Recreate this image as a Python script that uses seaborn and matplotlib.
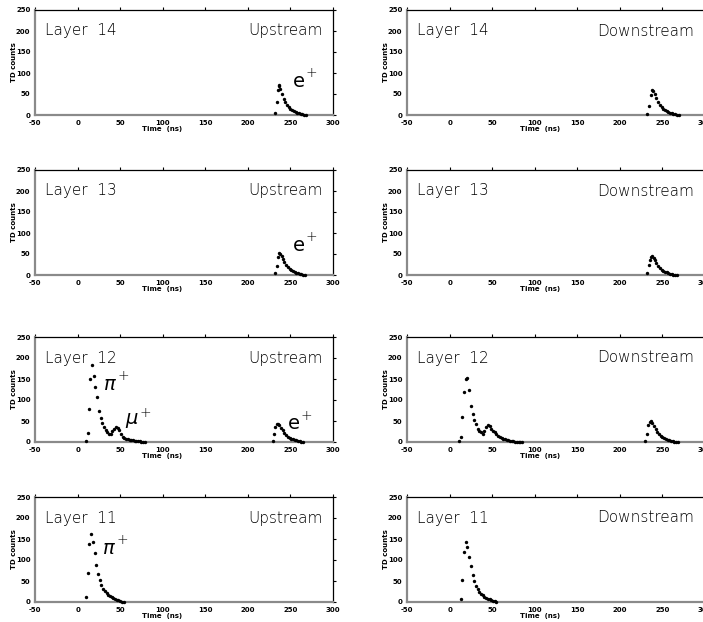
import matplotlib
matplotlib.use("Agg")
import matplotlib.pyplot as plt
import seaborn as sns
import pandas as pd

sns.set_style("white")
plt.rcParams['font.family'] = ['DejaVu Sans']
plt.rcParams['text.color'] = 'black'

# ---------------- data ----------------
x_ticks = [-50, 0, 50, 100, 150, 200, 250, 300]
y_ticks = [0, 50, 100, 150, 200, 250]
layers = ["Layer  14", "Layer  13", "Layer  12", "Layer  11"]
sides = ["Upstream", "Downstream"]

# Layer 14
t14u = [232, 234, 235, 236, 237, 238, 240, 242, 244, 246, 248, 250, 252, 254, 256, 258, 260, 262, 264, 266, 268]
c14u = [5, 30, 60, 68, 72, 63, 50, 38, 30, 23, 18, 14, 11, 9, 7, 5, 4, 3, 2, 1, 0]
t14d = [232, 234, 236, 238, 239, 241, 243, 245, 247, 249, 251, 253, 255, 257, 259, 261, 263, 265, 267, 269]
c14d = [2, 21, 48, 60, 58, 50, 40, 32, 25, 19, 15, 11, 9, 7, 5, 4, 3, 2, 1, 0]
# Layer 13
t13u = [232, 234, 235, 237, 238, 240, 241, 243, 245, 247, 249, 251, 253, 255, 257, 259, 261, 263, 265, 267]
c13u = [4, 22, 44, 52, 50, 45, 38, 30, 24, 19, 15, 11, 9, 7, 5, 4, 3, 2, 1, 0]
t13d = [232, 234, 235, 237, 238, 240, 241, 243, 245, 247, 249, 251, 253, 255, 257, 259, 261, 263, 265, 267]
c13d = [4, 24, 36, 44, 45, 40, 35, 28, 22, 17, 13, 10, 8, 6, 4, 3, 2, 1, 1, 0]
# Layer 12
t12u = [10, 12, 14, 15, 17, 19, 21, 23, 25, 27, 29, 31, 33, 35, 37, 39, 41, 43, 45, 47, 49, 51, 53, 55,
        57, 59, 61, 63, 65, 67, 69, 71, 73, 75, 77, 79,
        229, 231, 232, 234, 235, 237, 239, 241, 243, 245, 247, 249, 251, 253, 255, 257, 259, 261, 263, 265]
c12u = [3, 22, 78, 150, 184, 158, 130, 108, 74, 56, 46, 36, 28, 24, 20, 18, 26, 32, 36, 34, 28, 18, 12, 9,
        7, 6, 5, 4, 4, 3, 3, 2, 2, 1, 1, 0,
        3, 18, 36, 42, 44, 40, 34, 28, 22, 17, 13, 10, 8, 6, 5, 4, 3, 2, 1, 0]
t12d = [11, 13, 15, 17, 19, 21, 23, 25, 27, 29, 31, 33, 35, 37, 39, 41, 43, 45, 47, 49, 51, 53, 55, 57,
        59, 61, 63, 65, 67, 69, 71, 73, 75, 77, 79, 81, 83, 85,
        230, 232, 233, 235, 236, 238, 240, 242, 244, 246, 248, 250, 252, 254, 256, 258, 260, 262, 264, 266, 268]
c12d = [2, 12, 60, 118, 150, 152, 124, 85, 66, 52, 42, 30, 26, 24, 20, 26, 36, 40, 38, 32, 27, 23, 18, 14,
        11, 9, 7, 6, 5, 4, 3, 2, 2, 1, 1, 1, 0, 0,
        2, 20, 40, 48, 50, 45, 38, 30, 24, 18, 14, 11, 9, 7, 5, 4, 3, 2, 1, 1, 0]
# Layer 11
t11u = [10, 12, 14, 16, 18, 20, 22, 24, 26, 28, 30, 32, 34, 36, 38, 40, 42, 44, 46, 48, 50, 52, 54]
c11u = [12, 70, 138, 161, 144, 116, 88, 66, 52, 40, 32, 26, 21, 17, 14, 11, 9, 7, 5, 4, 3, 1, 0]
t11d = [13, 15, 17, 19, 21, 23, 25, 27, 29, 31, 33, 35, 37, 39, 41, 43, 45, 47, 49, 51, 53, 55]
c11d = [8, 52, 118, 143, 130, 108, 86, 65, 50, 39, 31, 25, 20, 16, 13, 10, 8, 6, 4, 3, 2, 1]

panel_data = [
    [(t14u, c14u), (t14d, c14d)],
    [(t13u, c13u), (t13d, c13d)],
    [(t12u, c12u), (t12d, c12d)],
    [(t11u, c11u), (t11d, c11d)],
]

# particle annotations: (row, col, symbol, x_left, y_center)
annotations = [
    (0, 0, r'$\mathrm{e}$', 252, 80),
    (1, 0, r'$\mathrm{e}$', 252, 70),
    (2, 0, r'$\pi$', 30, 138),
    (2, 0, r'$\mu$', 56, 50),
    (2, 0, r'$\mathrm{e}$', 246, 43),
    (3, 0, r'$\pi$', 29, 128),
]

# ---------------- layout ----------------
W, H = 703, 622
fig = plt.figure(figsize=(W / 100, H / 100), dpi=100)

col_left = [35, 407]
ax_w = 298
row_top = [10, 170, 337, 497]
ax_h = 105

tick_font = dict(fontsize=5, fontweight='bold')

for r in range(4):
    for c in range(2):
        left = col_left[c] / W
        bottom = 1 - (row_top[r] + ax_h) / H
        ax = fig.add_axes([left, bottom, ax_w / W, ax_h / H])
        t, cnt = panel_data[r][c]
        df = pd.DataFrame({"t": t, "counts": cnt})
        sns.scatterplot(data=df, x="t", y="counts", ax=ax, color="black",
                        s=6, linewidth=0, marker="o", zorder=3, clip_on=False)
        ax.set_xlim(-50, 300)
        ax.set_ylim(0, 250)
        ax.set_xticks(x_ticks)
        ax.set_yticks(y_ticks)
        ax.set_xticklabels([str(v) for v in x_ticks], **tick_font)
        ax.set_yticklabels([str(v) for v in y_ticks], **tick_font)
        ax.tick_params(axis='both', which='both', direction='out', length=2.5,
                       width=0.8, pad=0.8, colors='black',
                       top=True, right=True, labeltop=False, labelright=False)
        for s in ['left', 'bottom']:
            ax.spines[s].set_color('#8a8a8a')
            ax.spines[s].set_linewidth(1.6)
        for s in ['top', 'right']:
            ax.spines[s].set_color('black')
            ax.spines[s].set_linewidth(0.9)
        ax.set_xlabel("")
        ax.set_ylabel("")
        xl = 0.426 if c == 0 else 0.446
        ax.text(xl, -0.13, "Time  (ns)", transform=ax.transAxes, ha='center',
                va='center', fontsize=5, fontweight='bold')
        ax.text(-0.07, 0.5, "TD counts", transform=ax.transAxes, ha='center',
                va='center', rotation=90, fontsize=5, fontweight='bold')
        ax.text(0.034, 0.80, layers[r], transform=ax.transAxes, ha='left',
                va='center', fontsize=11, fontweight='light', color='black')
        ax.text(0.966 if c == 0 else 0.963, 0.80, sides[c], transform=ax.transAxes,
                ha='right', va='center', fontsize=11, fontweight='light', color='black')
        ax.grid(False)
        for (rr, cc, sym, x, y) in annotations:
            if rr == r and cc == c:
                tx = ax.text(x, y, sym, ha='left', va='center', fontsize=14,
                             color='black')
                ax.annotate("+", xy=(1.0, 1.0), xycoords=tx, xytext=(0, -1),
                            textcoords='offset points', ha='left', va='center',
                            fontsize=10, fontweight='light', color='black')

fig.savefig("out.png", dpi=100)
